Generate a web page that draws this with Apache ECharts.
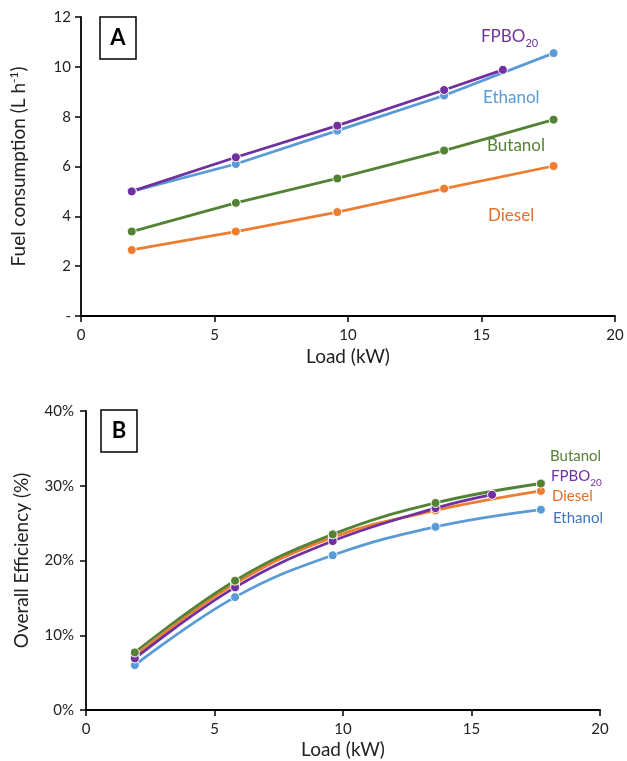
<!DOCTYPE html>
<html><head><meta charset="utf-8">
<script src="https://cdn.jsdelivr.net/npm/echarts@6/dist/echarts.min.js"></script>
<style>html,body{margin:0;padding:0;background:#fff}#c{width:627px;height:761px}</style>
</head><body><div id="c"></div>
<script>
// Load (kW)
const loads = [1.9, 5.8, 9.6, 13.6, 17.7];
const fpboLoads = [1.9, 5.8, 9.6, 13.6, 15.8];
// Panel A: fuel consumption (L/h)
const fuelDiesel = [2.65, 3.39, 4.17, 5.11, 6.02];
const fuelButanol = [3.39, 4.54, 5.52, 6.64, 7.88];
const fuelEthanol = [5.0, 6.1, 7.44, 8.85, 10.55];
const fuelFPBO = [5.0, 6.37, 7.64, 9.07, 9.88];
// Panel B: overall efficiency (%)
const effDiesel = [7.2, 16.9, 23.1, 26.7, 29.3];
const effButanol = [7.7, 17.3, 23.5, 27.7, 30.3];
const effEthanol = [6.0, 15.1, 20.7, 24.5, 26.8];
const effFPBO = [6.9, 16.4, 22.6, 27.0, 28.8];

const C = {diesel:'#ED7D31', ethanol:'#5B9BD5', butanol:'#548235', fpbo:'#7030A0'};
const FONT = 'Lato';
const zip = (xs, ys) => xs.map((x,i)=>[x, ys[i]]);

function ser(name, xi, xs, ys, color, smooth){
  return {name, type:'line', xAxisIndex:xi, yAxisIndex:xi, data:zip(xs,ys), smooth:smooth?0.4:false,
    symbol:'circle', symbolSize:9, lineStyle:{color, width:2.8},
    itemStyle:{color, borderColor:'#fff', borderWidth:1}, z: 3};
}

const axisLine = {show:true, lineStyle:{color:'#000', width:1.8}};
const axisLabel = {color:'#222', fontSize:15, fontFamily:FONT};
const nameStyle = {fontSize:19, color:'#222', fontFamily:FONT};

const chart = echarts.init(document.getElementById('c'));
chart.setOption({
  animation:false,
  grid:[{left:81, right:12, top:17, height:299},{left:86, right:27, top:411, height:299}],
  xAxis:[
    {gridIndex:0, type:'value', min:0, max:20, interval:5, axisLine, axisTick:{show:true, length:6, lineStyle:{color:'#000', width:1.5}},
     splitLine:{show:false}, axisLabel:Object.assign({margin:12}, axisLabel),
     name:'Load (kW)', nameLocation:'middle', nameGap:31, nameTextStyle:nameStyle},
    {gridIndex:1, type:'value', min:0, max:20, interval:5, axisLine, axisTick:{show:true, length:6, lineStyle:{color:'#000', width:1.5}},
     splitLine:{show:false}, axisLabel:Object.assign({margin:12}, axisLabel),
     name:'Load (kW)', nameLocation:'middle', nameGap:30, nameTextStyle:nameStyle}
  ],
  yAxis:[
    {gridIndex:0, type:'value', min:0, max:12, interval:2, axisLine, axisTick:{show:true, length:6, lineStyle:{color:'#000', width:1.5}},
     splitLine:{show:false}, axisLabel:Object.assign({margin:10, formatter:v=> v===0?'-':String(v)}, axisLabel),
     name:'Fuel consumption (L h{sup|-1})', nameLocation:'middle', nameGap:52,
     nameTextStyle:Object.assign({rich:{sup:{fontSize:12, color:'#222', fontFamily:FONT, padding:[0,0,9,0]}}}, nameStyle)},
    {gridIndex:1, type:'value', min:0, max:40, interval:10, axisLine, axisTick:{show:true, length:6, lineStyle:{color:'#000', width:1.5}},
     splitLine:{show:false}, axisLabel:Object.assign({margin:12, formatter:'{value}%'}, axisLabel),
     name:'Overall Efficiency (%)', nameLocation:'middle', nameGap:55, nameTextStyle:nameStyle}
  ],
  series:[
    ser('Diesel',0,loads,fuelDiesel,C.diesel,false),
    ser('Butanol',0,loads,fuelButanol,C.butanol,false),
    ser('Ethanol',0,loads,fuelEthanol,C.ethanol,false),
    ser('FPBO20',0,fpboLoads,fuelFPBO,C.fpbo,false),
    ser('Ethanol',1,loads,effEthanol,C.ethanol,true),
    ser('Diesel',1,loads,effDiesel,C.diesel,true),
    ser('FPBO20',1,fpboLoads,effFPBO,C.fpbo,true),
    ser('Butanol',1,loads,effButanol,C.butanol,true)
  ],
  graphic:[
    {type:'rect', shape:{x:100, y:17, width:36, height:42}, style:{fill:'#fff', stroke:'#000', lineWidth:1.5}},
    {type:'text', x:118, y:38, style:{text:'A', font:'bold 22px '+FONT, fill:'#000', align:'center', verticalAlign:'middle'}},
    {type:'rect', shape:{x:101, y:410, width:36, height:42}, style:{fill:'#fff', stroke:'#000', lineWidth:1.5}},
    {type:'text', x:119, y:431, style:{text:'B', font:'bold 22px '+FONT, fill:'#000', align:'center', verticalAlign:'middle'}},
    // Panel A series labels
    {type:'text', x:481, y:28, style:{text:'{a|FPBO}{s|20}', rich:{a:{fontSize:17, fill:C.fpbo, fontFamily:FONT, verticalAlign:'bottom'}, s:{fontSize:11, fill:C.fpbo, fontFamily:FONT, verticalAlign:'bottom', padding:[0,0,-4,0]}}}},
    {type:'text', x:483, y:89, style:{text:'Ethanol', fontSize:17, fontFamily:FONT, fill:C.ethanol}},
    {type:'text', x:487, y:137, style:{text:'Butanol', fontSize:17, fontFamily:FONT, fill:C.butanol}},
    {type:'text', x:488, y:207, style:{text:'Diesel', fontSize:17, fontFamily:FONT, fill:'#E0702A'}},
    // Panel B series labels
    {type:'text', x:550, y:449, style:{text:'Butanol', fontSize:15, fontFamily:FONT, fill:C.butanol}},
    {type:'text', x:551, y:469, style:{text:'{a|FPBO}{s|20}', rich:{a:{fontSize:15, fill:C.fpbo, fontFamily:FONT, verticalAlign:'bottom'}, s:{fontSize:10, fill:C.fpbo, fontFamily:FONT, verticalAlign:'bottom', padding:[0,0,-4,0]}}}},
    {type:'text', x:552, y:489, style:{text:'Diesel', fontSize:15, fontFamily:FONT, fill:'#E0702A'}},
    {type:'text', x:553, y:511, style:{text:'Ethanol', fontSize:15, fontFamily:FONT, fill:'#4472C4'}}
  ]
});
</script></body></html>
